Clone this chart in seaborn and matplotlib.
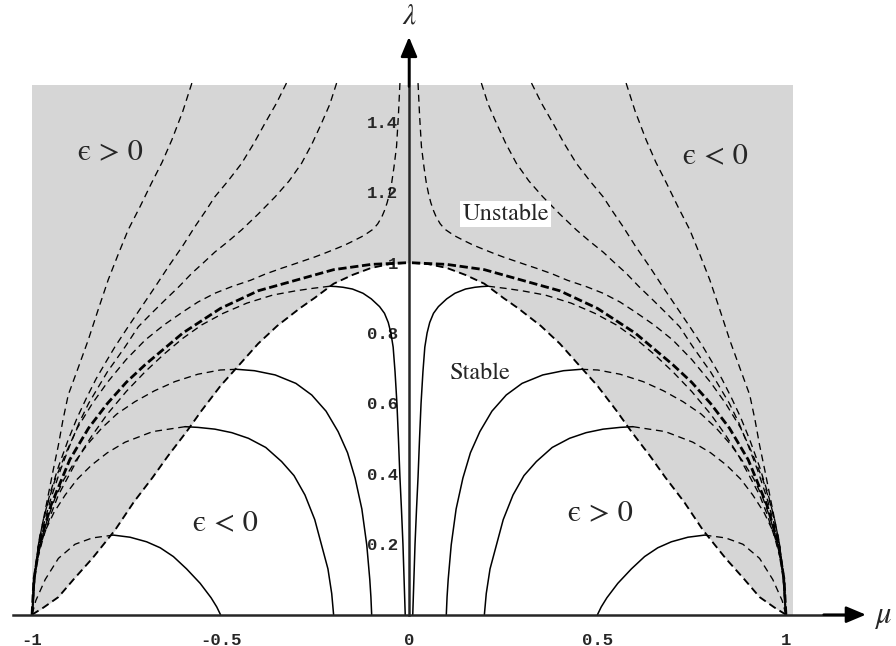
import matplotlib
matplotlib.use("Agg")
import numpy as np
import pandas as pd
import matplotlib.pyplot as plt
import seaborn as sns
from matplotlib.ticker import FixedLocator, FixedFormatter

# ---- curves on the left half (mu <= 0); the right half is the mirror image ----
# edge of the stable (white) region
edge_mu = [-1.00, -0.97, -0.93, -0.89, -0.84, -0.78, -0.73, -0.68, -0.64, -0.59, -0.55,
           -0.50, -0.45, -0.40, -0.35, -0.29, -0.25, -0.20, -0.15, -0.10, -0.05, 0.00]
edge_lam = [0.00, 0.02, 0.05, 0.10, 0.16, 0.24, 0.32, 0.39, 0.45, 0.52, 0.58,
            0.65, 0.71, 0.77, 0.82, 0.87, 0.90, 0.94, 0.965, 0.985, 0.996, 1.00]

# limiting circle (heavy dashes)
circ_mu = [-1.00, -0.995, -0.98, -0.95, -0.90, -0.85, -0.80, -0.75, -0.70, -0.60,
           -0.50, -0.40, -0.30, -0.20, -0.10, 0.00]
circ_lam = [0.00, 0.10, 0.20, 0.31, 0.44, 0.53, 0.60, 0.66, 0.71, 0.80,
            0.87, 0.92, 0.95, 0.98, 0.995, 1.00]

# lower family: solid inside the stable region, dashed once unstable
a1_mu = [-0.50, -0.51, -0.525, -0.554, -0.59, -0.625, -0.66, -0.696, -0.74, -0.784]
a1_lam = [0.00, 0.022, 0.048, 0.089, 0.13, 0.165, 0.19, 0.207, 0.22, 0.226]
a1d_mu = [-0.784, -0.84, -0.886, -0.93, -0.965, -0.99, -1.00]
a1d_lam = [0.226, 0.218, 0.20, 0.16, 0.10, 0.04, 0.00]

a2_mu = [-0.20, -0.205, -0.215, -0.232, -0.25, -0.276, -0.305, -0.338, -0.38, -0.426,
         -0.47, -0.515, -0.56, -0.594]
a2_lam = [0.00, 0.06, 0.13, 0.198, 0.27, 0.34, 0.395, 0.435, 0.475, 0.501,
          0.517, 0.527, 0.532, 0.534]
a2d_mu = [-0.594, -0.68, -0.753, -0.80, -0.842, -0.88, -0.912, -0.942, -0.966, -0.985, -0.996, -1.00]
a2d_lam = [0.534, 0.52, 0.49, 0.46, 0.425, 0.385, 0.34, 0.29, 0.236, 0.17, 0.103, 0.00]

a3_mu = [-0.099, -0.101, -0.104, -0.112, -0.125, -0.143, -0.163, -0.188, -0.22, -0.258,
         -0.30, -0.355, -0.41, -0.457]
a3_lam = [0.00, 0.05, 0.10, 0.198, 0.30, 0.388, 0.46, 0.52, 0.578, 0.624,
          0.657, 0.681, 0.693, 0.697]
a3d_mu = [-0.457, -0.501, -0.56, -0.621, -0.675, -0.727, -0.775, -0.815, -0.852, -0.886,
          -0.915, -0.939, -0.958, -0.974, -0.987, -0.995, -1.00]
a3d_lam = [0.697, 0.695, 0.683, 0.662, 0.636, 0.605, 0.57, 0.53, 0.485, 0.435,
           0.385, 0.331, 0.275, 0.217, 0.16, 0.10, 0.00]

a4_mu = [-0.010, -0.013, -0.016, -0.020, -0.024, -0.028, -0.032, -0.037, -0.042, -0.048,
         -0.055, -0.065, -0.078, -0.10, -0.122, -0.15, -0.175, -0.193, -0.21]
a4_lam = [0.00, 0.10, 0.20, 0.30, 0.39, 0.50, 0.60, 0.69, 0.76, 0.80,
          0.83, 0.856, 0.875, 0.897, 0.913, 0.925, 0.93, 0.932, 0.933]
a4d_mu = [-0.21, -0.255, -0.30, -0.361, -0.43, -0.493, -0.55, -0.60, -0.65, -0.70, -0.75,
          -0.80, -0.84, -0.87, -0.90, -0.93, -0.95, -0.97, -0.985, -0.995, -1.00]
a4d_lam = [0.933, 0.927, 0.92, 0.908, 0.885, 0.856, 0.823, 0.785, 0.74, 0.69, 0.634,
           0.57, 0.51, 0.46, 0.40, 0.34, 0.285, 0.22, 0.16, 0.10, 0.00]

# upper family (unstable everywhere)
b1_mu = [-0.024, -0.028, -0.033, -0.040, -0.046, -0.052, -0.058, -0.065, -0.072, -0.083,
         -0.095, -0.11, -0.125, -0.147, -0.17, -0.195, -0.223, -0.25, -0.28, -0.31, -0.338,
         -0.38, -0.42, -0.47, -0.515, -0.56, -0.60, -0.65, -0.70, -0.75, -0.80, -0.84,
         -0.88, -0.91, -0.94, -0.96, -0.98, -0.993, -1.00]
b1_lam = [1.51, 1.42, 1.33, 1.27, 1.226, 1.195, 1.17, 1.148, 1.13, 1.11,
          1.095, 1.084, 1.074, 1.062, 1.05, 1.039, 1.027, 1.016, 1.005, 0.994, 0.984,
          0.968, 0.95, 0.932, 0.913, 0.888, 0.86, 0.823, 0.78, 0.725, 0.66, 0.60,
          0.53, 0.46, 0.38, 0.31, 0.22, 0.12, 0.00]

b2_mu = [-0.192, -0.21, -0.232, -0.257, -0.285, -0.318, -0.355, -0.40, -0.444, -0.48,
         -0.515, -0.545, -0.576, -0.61, -0.647, -0.683, -0.718, -0.753,
         -0.78, -0.80, -0.825, -0.85, -0.875, -0.90, -0.925, -0.95, -0.968, -0.98, -0.992, -1.00]
b2_lam = [1.51, 1.45, 1.396, 1.338, 1.282, 1.232, 1.187, 1.138, 1.093, 1.06,
          1.03, 1.00, 0.97, 0.932, 0.894, 0.856, 0.818, 0.761,
          0.72, 0.69, 0.645, 0.60, 0.545, 0.48, 0.41, 0.33, 0.26, 0.20, 0.11, 0.00]

b3_mu = [-0.325, -0.352, -0.382, -0.412, -0.444, -0.48, -0.515, -0.54, -0.568, -0.60,
         -0.638, -0.673, -0.709, -0.745, -0.78, -0.805, -0.83, -0.855, -0.88,
         -0.905, -0.93, -0.952, -0.97, -0.983, -0.99, -1.00]
b3_lam = [1.51, 1.452, 1.396, 1.338, 1.282, 1.232, 1.187, 1.146, 1.102, 1.048,
          0.989, 0.932, 0.875, 0.818, 0.761, 0.716, 0.67, 0.617, 0.56,
          0.494, 0.42, 0.345, 0.27, 0.20, 0.14, 0.00]

b4_mu = [-0.576, -0.60, -0.629, -0.655, -0.683, -0.713, -0.745, -0.772, -0.798, -0.825,
         -0.851, -0.878, -0.904, -0.918, -0.93, -0.944, -0.957, -0.97, -0.983, -0.992, -0.996, -1.00]
b4_lam = [1.51, 1.43, 1.349, 1.285, 1.226, 1.16, 1.093, 1.022, 0.951, 0.865,
          0.78, 0.70, 0.624, 0.553, 0.482, 0.41, 0.34, 0.27, 0.198, 0.12, 0.05, 0.00]

x_ticks = [-1, -0.5, 0, 0.5, 1]
x_tick_labels = ["-1", "-0.5", "0", "0.5", "1"]
y_ticks = [0.2, 0.4, 0.6, 0.8, 1.0, 1.2, 1.4]
y_tick_labels = ["0.2", "0.4", "0.6", "0.8", "1", "1.2", "1.4"]

# ---- assemble both halves into one long table ----
curves = [
    ("edge", edge_mu, edge_lam, "edge"),
    ("circle", circ_mu, circ_lam, "circle"),
    ("a1", a1_mu, a1_lam, "solid"), ("a1d", a1d_mu, a1d_lam, "dashed"),
    ("a2", a2_mu, a2_lam, "solid"), ("a2d", a2d_mu, a2d_lam, "dashed"),
    ("a3", a3_mu, a3_lam, "solid"), ("a3d", a3d_mu, a3d_lam, "dashed"),
    ("a4", a4_mu, a4_lam, "solid"), ("a4d", a4d_mu, a4d_lam, "dashed"),
    ("b1", b1_mu, b1_lam, "dashed"), ("b2", b2_mu, b2_lam, "dashed"),
    ("b3", b3_mu, b3_lam, "dashed"), ("b4", b4_mu, b4_lam, "dashed"),
]
rows = []
for name, mus, lams, kind in curves:
    for side, sign in (("L", 1.0), ("R", -1.0)):
        for m, l in zip(mus, lams):
            rows.append({"curve": name + side, "kind": kind, "mu": sign * m, "lam": l})
df = pd.DataFrame(rows)

# ---- figure ----
sns.set_style("white")
plt.rcParams["lines.scale_dashes"] = False
plt.rcParams["lines.solid_joinstyle"] = "round"
plt.rcParams["mathtext.fontset"] = "stix"
plt.rcParams["axes.unicode_minus"] = False

fig = plt.figure(figsize=(8.96, 6.46), dpi=100)
ax = fig.add_axes([0, 0, 1, 1])
ax.set_xlim(-1.085, 1.292)
ax.set_ylim(-0.089, 1.746)
ax.set_axisbelow(False)

# shaded unstable area, with the stable region cut out in white
ax.fill_between([-1.0, 1.02], 0, 1.505, color="#d6d6d6", lw=0, zorder=0)
edge_full = df[df.curve.isin(["edgeL", "edgeR"])].sort_values("mu")
ax.fill_between(edge_full.mu, 0, edge_full.lam, color="white", lw=0, zorder=1)

styles = {
    "edge": dict(linewidth=1.35, linestyle=(0, (5.5, 3.2))),
    "circle": dict(linewidth=2.0, linestyle=(0, (6.0, 2.6))),
    "dashed": dict(linewidth=0.95, linestyle=(0, (5.0, 3.4))),
    "solid": dict(linewidth=1.1, linestyle="-"),
}
for kind, st in styles.items():
    sub = df[df.kind == kind]
    sns.lineplot(data=sub, x="mu", y="lam", units="curve", estimator=None, sort=False,
                 color="black", legend=False, ax=ax, zorder=3, **st)

# axes through the origin, with arrow heads
for side in ("top", "right"):
    ax.spines[side].set_visible(False)
ax.spines["left"].set_position(("data", 0))
ax.spines["bottom"].set_position(("data", 0))
ax.spines["left"].set_bounds(0, 1.60)
ax.spines["bottom"].set_bounds(-1.05, 1.17)
for side in ("left", "bottom"):
    ax.spines[side].set_linewidth(1.8)
    ax.spines[side].set_zorder(5)
arrow = dict(arrowstyle="-|>,head_length=1.0,head_width=0.42", color="black", lw=1.8,
             mutation_scale=12, shrinkA=0, shrinkB=0)
ax.annotate("", xy=(0, 1.641), xytext=(0, 1.5), arrowprops=arrow, zorder=6)
ax.annotate("", xy=(1.212, 0), xytext=(1.1, 0), arrowprops=arrow, zorder=6)

ax.xaxis.set_major_locator(FixedLocator(x_ticks))
ax.xaxis.set_major_formatter(FixedFormatter(x_tick_labels))
ax.xaxis.set_minor_locator(FixedLocator(np.round(np.arange(-1.0, 1.001, 0.1), 2)))
ax.yaxis.set_major_locator(FixedLocator(y_ticks))
ax.yaxis.set_major_formatter(FixedFormatter(y_tick_labels))
ax.yaxis.set_minor_locator(FixedLocator(np.round(np.arange(0.04, 1.50, 0.04), 2)))
ax.tick_params(axis="both", which="both", direction="in", color="black", width=0.9)
ax.tick_params(axis="x", which="major", length=4, pad=13)
ax.tick_params(axis="x", which="minor", length=3)
ax.tick_params(axis="y", which="major", length=6, pad=8)
ax.tick_params(axis="y", which="minor", length=4)
for lab in ax.get_xticklabels() + ax.get_yticklabels():
    lab.set_family("Liberation Mono")
    lab.set_weight("bold")
    lab.set_fontsize(12.5)
ax.set_xlabel("")
ax.set_ylabel("")

# annotations
serif = "STIXGeneral"
ax.text(0.0, 1.703, r"$\lambda$", fontsize=21, ha="center", va="center", zorder=7)
ax.text(1.257, -0.006, r"$\mu$", fontsize=22, ha="center", va="center", zorder=7)
for mu0, lam0, txt in [(-0.793, 1.314, "\u03f5 > 0"), (0.814, 1.303, "\u03f5 < 0"),
                       (-0.488, 0.260, "\u03f5 < 0"), (0.509, 0.289, "\u03f5 > 0")]:
    ax.text(mu0, lam0, txt, family=serif, fontsize=22, ha="center", va="center", zorder=7)
ax.text(0.257, 1.138, "Unstable", family=serif, fontsize=17.5, ha="center", va="center",
        zorder=7, bbox=dict(facecolor="white", edgecolor="none", pad=1.5))
ax.text(0.188, 0.687, "Stable", family=serif, fontsize=17.5, ha="center", va="center", zorder=7)

fig.savefig("out.png", dpi=100, facecolor="white")
